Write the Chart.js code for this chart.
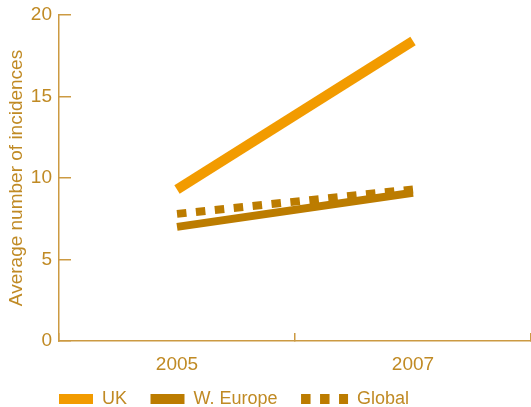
<!DOCTYPE html>
<html>
<head>
<meta charset="utf-8">
<script src="https://cdn.jsdelivr.net/npm/chart.js@4"></script>
<style>
  html, body { margin: 0; padding: 0; background: #fff; }
</style>
</head>
<body>
<canvas id="chart" width="531" height="407"></canvas>
<script>
const years = ['2005', '2007'];
const ukValues = [9.3, 18.4];
const westEuropeValues = [7.0, 9.1];
const globalValues = [7.8, 9.3];
const yTicks = [0, 5, 10, 15, 20];
const yTitle = 'Average number of incidences';

const textColor = '#c08a24';
const axisColor = '#cc9a42';
const fontFamily = '"Liberation Sans", Arial, Helvetica, sans-serif';

// legend drawn by hand: the Global swatch is wider than the others
const bottomLegend = {
  id: 'bottomLegend',
  afterDraw(chart) {
    const ctx = chart.ctx;
    const y = 399;
    let x = 59;
    ctx.save();
    ctx.font = `18px ${fontFamily}`;
    ctx.textBaseline = 'middle';
    chart.data.datasets.forEach((ds) => {
      const w = ds.legendWidth;
      ctx.strokeStyle = ds.borderColor;
      ctx.lineWidth = 10;
      ctx.lineCap = 'butt';
      ctx.setLineDash(ds.borderDash || []);
      ctx.beginPath();
      ctx.moveTo(x, y);
      ctx.lineTo(x + w, y);
      ctx.stroke();
      ctx.setLineDash([]);
      ctx.fillStyle = textColor;
      ctx.fillText(ds.label, x + w + 9, y);
      x += w + 9 + ctx.measureText(ds.label).width + 23.5;
    });
    ctx.restore();
  },
};

new Chart(document.getElementById('chart'), {
  type: 'line',
  data: {
    labels: years,
    datasets: [
      { label: 'UK', data: ukValues, borderColor: '#f29b00', borderWidth: 10, legendWidth: 34 },
      { label: 'W. Europe', data: westEuropeValues, borderColor: '#bc7c00', borderWidth: 8, legendWidth: 34 },
      { label: 'Global', data: globalValues, borderColor: '#bc7c00', borderWidth: 8, borderDash: [9.5, 9.5], legendWidth: 47 },
    ],
  },
  options: {
    responsive: false,
    devicePixelRatio: 1,
    animation: false,
    layout: { padding: { top: 0, right: 0, bottom: 36, left: 0 } },
    elements: { point: { radius: 0 }, line: { tension: 0 } },
    plugins: { legend: { display: false }, tooltip: { enabled: false } },
    scales: {
      x: {
        offset: true,
        grid: { offset: true, drawOnChartArea: false, tickLength: -8, color: axisColor, lineWidth: 1.5 },
        border: { color: axisColor, width: 1.5 },
        ticks: { color: textColor, font: { family: fontFamily, size: 19 }, padding: 20, maxRotation: 0 },
        afterFit: (scale) => { scale.height = 30; },
      },
      y: {
        min: 0,
        max: 20,
        afterBuildTicks: (scale) => { scale.ticks = yTicks.map((v) => ({ value: v })); },
        grid: { drawOnChartArea: false, tickLength: -12, color: axisColor, lineWidth: 1.5 },
        border: { color: axisColor, width: 1.5 },
        ticks: { color: textColor, font: { family: fontFamily, size: 19 }, padding: 19 },
        title: { display: true, text: yTitle, color: textColor, font: { family: fontFamily, size: 19 }, padding: { top: 5, bottom: 0 } },
        afterFit: (scale) => {
          scale.width = 59;
          scale.paddingTop = 15;
          scale.paddingBottom = 0;
        },
      },
    },
  },
  plugins: [bottomLegend],
});
</script>
</body>
</html>
